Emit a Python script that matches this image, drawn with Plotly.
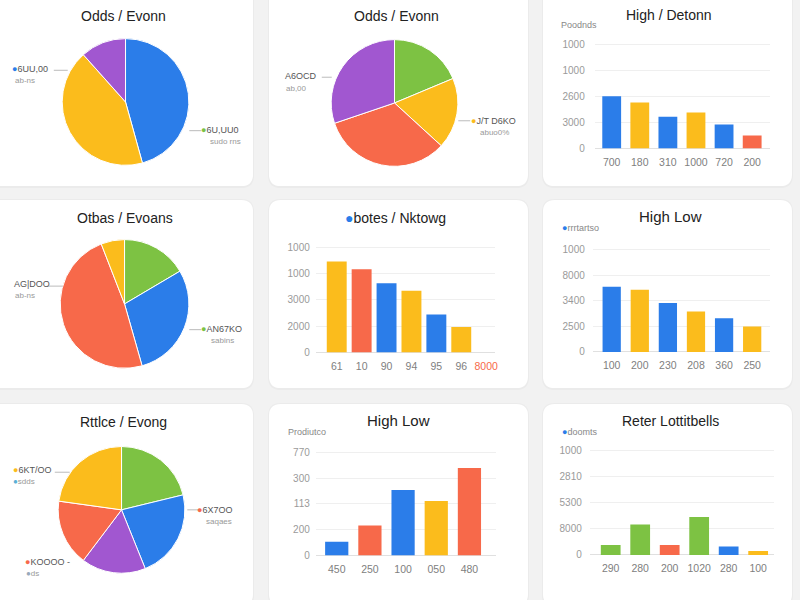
import plotly.graph_objects as go

# ---------------- data ----------------
pie1_title = "Odds / Evonn"
pie1_labels = ["6UU,00", "Amber", "Violet"]
pie1_values = [45.7, 42.7, 11.6]

pie2_title = "Odds / Evonn"
pie2_labels = ["Green", "Amber", "Coral", "Violet"]
pie2_values = [18.7, 18.1, 33.0, 30.2]

pie3_title = "Otbas / Evoans"
pie3_labels = ["Green", "Blue", "Coral", "Amber"]
pie3_values = [16.5, 29.1, 48.5, 5.9]

pie4_title = "Rttlce / Evong"
pie4_labels = ["Green", "Blue", "Violet", "Coral", "Amber"]
pie4_values = [21.2, 22.7, 16.4, 16.9, 22.8]

bar1_title = "High / Detonn"
bar1_labels = ["700", "180", "310", "1000", "720", "200"]
bar1_values = [2010, 1770, 1220, 1385, 920, 500]
bar1_ticks = ["0", "3000", "2600", "1000", "1000"]

bar2_title = "botes / Nktowg"
bar2_labels = ["61", "10", "90", "94", "95", "96", "8000"]
bar2_values = [3470, 3170, 2640, 2350, 1450, 970, 0]
bar2_ticks = ["0", "2000", "3000", "1000", "1000"]

bar3_title = "High Low"
bar3_labels = ["100", "200", "230", "208", "360", "250"]
bar3_values = [2540, 2430, 1910, 1580, 1310, 990]
bar3_ticks = ["0", "2500", "3400", "8000", "1000"]

bar4_title = "High Low"
bar4_labels = ["450", "250", "100", "050", "480"]
bar4_values = [530, 1160, 2540, 2110, 3400]
bar4_ticks = ["0", "200", "113", "300", "770"]

bar5_title = "Reter Lottitbells"
bar5_labels = ["290", "280", "200", "1020", "280", "100"]
bar5_values = [380, 1160, 380, 1450, 320, 150]
bar5_ticks = ["0", "8000", "5300", "2810", "1000"]

tick_values = [0, 1000, 2000, 3000, 4000]

# ---------------- styles ----------------
BLUE = "#2b7de9"; YELLOW = "#fbbc1c"; RED = "#f7694a"; GREEN = "#7dc243"; PURPLE = "#a157d0"
pie1_colors = [BLUE, YELLOW, PURPLE]
pie2_colors = [GREEN, YELLOW, RED, PURPLE]
pie3_colors = [GREEN, BLUE, RED, YELLOW]
pie4_colors = [GREEN, BLUE, PURPLE, RED, YELLOW]
bar1_colors = [BLUE, YELLOW, BLUE, YELLOW, BLUE, RED]
bar2_colors = [YELLOW, RED, BLUE, YELLOW, BLUE, YELLOW, RED]
bar3_colors = [BLUE, YELLOW, BLUE, YELLOW, BLUE, YELLOW]
bar4_colors = [BLUE, RED, BLUE, YELLOW, RED]
bar5_colors = [GREEN, GREEN, RED, GREEN, BLUE, YELLOW]

W, H = 800, 600
FONT = "Liberation Sans, Arial, sans-serif"


def px(x):
    return x / W


def py(y):
    return 1 - y / H


fig = go.Figure()
shapes = []
annotations = []


def card(x0, y0, x1, y1, r=12):
    def P(x, y):
        return f"{px(x):.5f},{py(y):.5f}"
    path = (f"M {P(x0 + r, y0)} L {P(x1 - r, y0)} Q {P(x1, y0)} {P(x1, y0 + r)} "
            f"L {P(x1, y1 - r)} Q {P(x1, y1)} {P(x1 - r, y1)} L {P(x0 + r, y1)} "
            f"Q {P(x0, y1)} {P(x0, y1 - r)} L {P(x0, y0 + r)} Q {P(x0, y0)} {P(x0 + r, y0)} Z")
    return path


cols = [(-10, 254), (270, 530), (545, 795)]
rows = [(-10, 188), (202, 392), (408, 612)]
for (x0, x1) in cols:
    for (y0, y1) in rows:
        shapes.append(dict(type="path", xref="paper", yref="paper", path=card(x0 - 1, y0 - 1, x1 + 1, y1 + 2, 13),
                           fillcolor="#ebebeb", line=dict(width=0), layer="below"))
        shapes.append(dict(type="path", xref="paper", yref="paper", path=card(x0, y0, x1, y1, 12),
                           fillcolor="white", line=dict(width=0), layer="below"))


def title(text, cx, cy, size=14):
    annotations.append(dict(text=text, x=px(cx), y=py(cy), xref="paper", yref="paper",
                            showarrow=False, xanchor="center", yanchor="middle",
                            font=dict(size=size, color="#222", family=FONT)))


def label(x, y, text, color="#555", size=9):
    annotations.append(dict(text=text, x=px(x), y=py(y), xref="paper", yref="paper",
                            showarrow=False, xanchor="left", yanchor="middle",
                            font=dict(size=size, color=color, family=FONT)))


def leader(x0, x1, y):
    shapes.append(dict(type="line", xref="paper", yref="paper", x0=px(x0), x1=px(x1),
                       y0=py(y), y1=py(y), line=dict(color="#bbbbbb", width=1)))


def dot(c):
    return f"<span style='color:{c}'>●</span>"


def add_pie(labels, values, colors, cx, cy, r):
    fig.add_trace(go.Pie(labels=labels, values=values, sort=False, direction="clockwise",
                         rotation=0, textinfo="none", hoverinfo="label+value",
                         marker=dict(colors=colors, line=dict(color="white", width=1)),
                         domain=dict(x=[px(cx - r), px(cx + r)], y=[py(cy + r), py(cy - r)]),
                         showlegend=False))


# pies
add_pie(pie1_labels, pie1_values, pie1_colors, 126, 103, 64)
title(pie1_title, 124, 16)
label(10, 70, dot(BLUE) + "6UU,00"); label(13, 81, "ab-ns", "#999", 8); leader(54, 68, 71)
label(200, 131, dot(GREEN) + "6U,UU0"); label(209, 143, "sudo rns", "#999", 8); leader(190, 202, 132)

add_pie(pie2_labels, pie2_values, pie2_colors, 396, 104, 64)
title(pie2_title, 398, 16)
label(284, 77, "A6OCD"); label(285, 89, "ab,00", "#999", 8); leader(323, 333, 78)
label(471, 122, dot(YELLOW) + "J/T D6KO"); label(480, 134, "abuo0%", "#999", 8); leader(460, 472, 122)

add_pie(pie3_labels, pie3_values, pie3_colors, 125, 307, 65)
title(pie3_title, 125, 220)
label(12, 287, "AG|DOO"); label(13, 298, "ab-ns", "#999", 8); leader(47, 63, 289)
label(200, 332, dot(GREEN) + "AN67KO"); label(210, 344, "sabins", "#999", 8); leader(190, 202, 333)

add_pie(pie4_labels, pie4_values, pie4_colors, 122, 515, 64)
title(pie4_title, 124, 426)
label(11, 475, dot(YELLOW) + "6KT/OO"); label(11, 486, dot("#5ab0d6") + "sdds", "#999", 8); leader(55, 70, 477)
label(196, 515, dot(RED) + "6X7OO"); label(205, 527, "saqaes", "#999", 8); leader(188, 199, 515)
label(23, 568, dot(RED) + "KOOOO -"); label(24, 579, dot("#9ab") + "ds", "#999", 8)


# bars
bar_specs = [
    # data, labels, ticks, colors, x-domain px, first center, spacing, base px, step px, standoff, gap
    (bar1_values, bar1_labels, bar1_ticks, bar1_colors, (597, 773), 614, 28.2, 150, 26.25, 9, 0.33),
    (bar2_values, bar2_labels, bar2_ticks, bar2_colors, (317, 497), 338, 25.0, 356, 26.5, 5, 0.2),
    (bar3_values, bar3_labels, bar3_ticks, bar3_colors, (595, 773), 614, 28.2, 355.5, 25.9, 7, 0.35),
    (bar4_values, bar4_labels, bar4_ticks, bar4_colors, (317, 498), 338, 33.3, 561, 26.0, 5, 0.3),
    (bar5_values, bar5_labels, bar5_ticks, bar5_colors, (592, 777), 613, 29.6, 560.5, 26.4, 7, 0.33),
]

layout_axes = {}
for i, (vals, labs, ticks, colors, (dl, dr), c0, s, base, step, standoff, gap) in enumerate(bar_specs, start=1):
    xa = "x" if i == 1 else f"x{i}"
    ya = "y" if i == 1 else f"y{i}"
    xs = list(range(len(vals)))
    fig.add_trace(go.Bar(x=xs, y=vals, marker=dict(color=colors, line=dict(width=0)),
                         xaxis=xa, yaxis=ya, showlegend=False, width=1 - gap))
    r0 = -(c0 - dl) / s
    r1 = r0 + (dr - dl) / s
    ytop = 4300
    top_px = base - ytop / 1000 * step
    tt = list(labs)
    if i == 2:
        tt[-1] = f"<span style='color:{RED}'>{tt[-1]}</span>"
    layout_axes["xaxis" if i == 1 else f"xaxis{i}"] = dict(
        domain=[px(dl), px(dr)], range=[r0, r1], anchor=ya, tickvals=xs, ticktext=tt,
        showgrid=False, zeroline=False, showline=False, ticks="", ticklabelstandoff=6,
        tickfont=dict(size=10.5, color="#808080", family=FONT), fixedrange=True)
    layout_axes["yaxis" if i == 1 else f"yaxis{i}"] = dict(
        domain=[py(base), py(top_px)], range=[0, ytop], anchor=xa, tickvals=tick_values,
        ticktext=ticks, showgrid=True, gridcolor="#efefef", gridwidth=1,
        zeroline=True, zerolinecolor="#e0e0e0", zerolinewidth=1, showline=False, ticks="",
        ticklabelstandoff=standoff, tickfont=dict(size=10, color="#9a9a9a", family=FONT), fixedrange=True)

title(bar1_title, 672, 15)
label(561, 25, "Poodnds", "#888", 9)

title(dot(BLUE) + bar2_title, 397, 220)

title(bar3_title, 673, 219, 15)
label(562, 230, dot(BLUE) + "rrrtartso", "#888", 9)

title(bar4_title, 400, 425, 15)
label(287, 436, "Prodiutco", "#888", 9)

title(bar5_title, 673, 425)
label(562, 436, dot(BLUE) + "doomts", "#888", 9)

fig.update_layout(
    width=W, height=H, margin=dict(l=0, r=0, t=0, b=0),
    paper_bgcolor="#f2f2f2", plot_bgcolor="rgba(0,0,0,0)",
    shapes=shapes, annotations=annotations, bargap=0.3,
    font=dict(family=FONT), **layout_axes)

fig.write_html("out.html")
